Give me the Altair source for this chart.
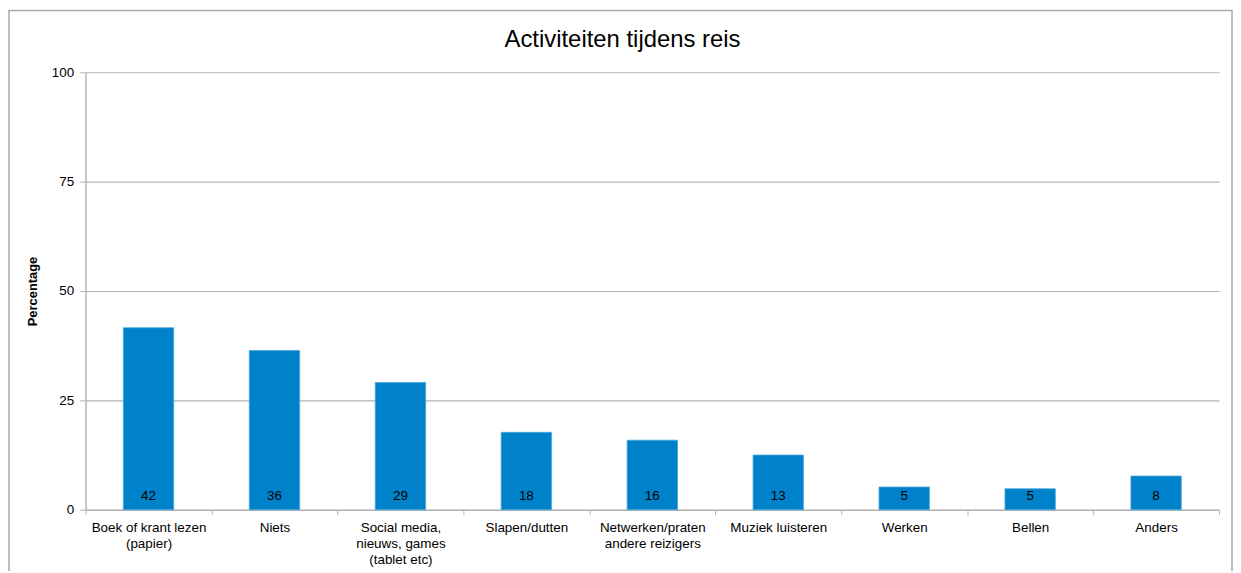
import altair as alt
import pandas as pd

categories = [
    "Boek of krant lezen|(papier)",
    "Niets",
    "Social media,|nieuws, games|(tablet etc)",
    "Slapen/dutten",
    "Netwerken/praten|andere reizigers",
    "Muziek luisteren",
    "Werken",
    "Bellen",
    "Anders",
]
values = [41.6, 36.4, 29.1, 17.7, 15.9, 12.5, 5.2, 4.8, 7.7]
labels = [42, 36, 29, 18, 16, 13, 5, 5, 8]
title_text = "Activiteiten tijdens reis"

df = pd.DataFrame({"cat": categories, "val": values, "lab": labels})

W, H = 1140, 440
FONT = "Liberation Sans"
GRAY = "#b4b4b4"
FS = 13.5

x_enc = alt.X(
    "cat:N",
    sort=categories,
    scale=alt.Scale(paddingInner=0, paddingOuter=0),
    axis=alt.Axis(
        title=None,
        labelAngle=0,
        labelExpr="split(datum.label, '|')",
        labelFontSize=FS,
        labelColor="#000000",
        labelFont=FONT,
        labelPadding=6,
        labelLineHeight=16,
        labelBaseline="top",
        tickBand="extent",
        tickSize=5,
        tickColor=GRAY,
        domainColor=GRAY,
        domainWidth=1.5,
        grid=False,
    ),
)

y_enc = alt.Y(
    "val:Q",
    scale=alt.Scale(domain=[0, 100]),
    axis=alt.Axis(
        title="Percentage",
        titleFontSize=13,
        titleFont=FONT,
        titleFontWeight="bold",
        titleColor="#000000",
        titlePadding=12,
        values=[0, 25, 50, 75, 100],
        labelFontSize=FS,
        labelFont=FONT,
        labelColor="#000000",
        labelPadding=6,
        tickSize=6,
        tickColor=GRAY,
        domainColor=GRAY,
        domainWidth=1.5,
        gridColor=GRAY,
        gridWidth=1.2,
    ),
)

bars = alt.Chart(df).mark_bar(
    width=alt.RelativeBandSize(0.4), color="#0082CA", stroke="#4aa7dc", strokeWidth=0.8
).encode(x=x_enc, y=y_enc)

text = alt.Chart(df).mark_text(
    fontSize=FS, font=FONT, color="#000000", baseline="middle", dy=-14
).encode(
    x=alt.X("cat:N", sort=categories),
    y=alt.datum(0),
    text="lab:Q",
)

one = pd.DataFrame({"t": [title_text]})

frame = alt.Chart(one).mark_rect(
    fill="transparent", stroke="#a8a8a8", strokeWidth=1.5
).encode(
    x=alt.value(-77),
    x2=alt.value(W + 13),
    y=alt.value(-62),
    y2=alt.value(H + 80),
)

title = alt.Chart(one).mark_text(
    fontSize=24, font=FONT, color="#000000", baseline="middle", align="center"
).encode(
    x=alt.value(W / 2 - 30),
    y=alt.value(-32),
    text="t:N",
)

chart = (
    alt.layer(bars, text, frame, title)
    .properties(
        width=W,
        height=H,
        autosize=alt.AutoSizeParams(type="none"),
        padding={"left": 78, "top": 63, "right": 14, "bottom": 60},
    )
    .configure_view(strokeWidth=0)
)

chart.save("out.html", embed_options={"renderer": "svg", "actions": False})
